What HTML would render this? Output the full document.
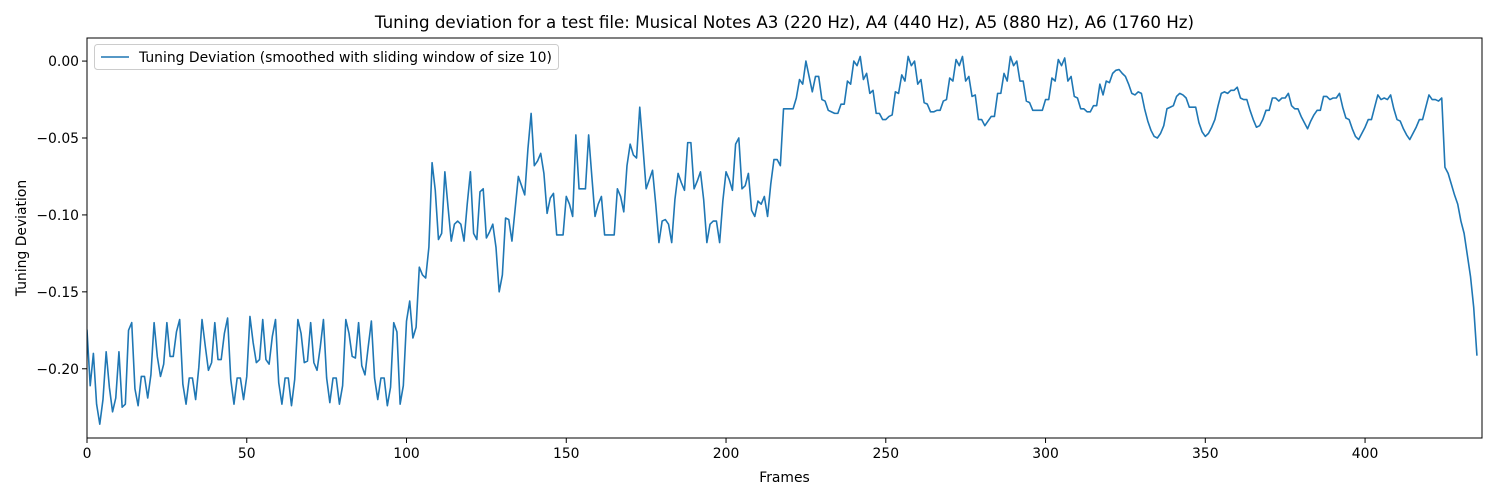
<!DOCTYPE html>
<html><head><meta charset="utf-8">
<style>
html,body{margin:0;padding:0;background:#fff;}
svg{display:block;font-family:"DejaVu Sans","Liberation Sans",sans-serif;}
</style></head>
<body>
<svg id="chart" width="1500" height="500" viewBox="0 0 1500 500" xmlns="http://www.w3.org/2000/svg">
<rect x="0" y="0" width="1500" height="500" fill="#fff"/>
<text x="784.5" y="28" text-anchor="middle" font-size="16.7" fill="#000">Tuning deviation for a test file: Musical Notes A3 (220 Hz), A4 (440 Hz), A5 (880 Hz), A6 (1760 Hz)</text>
<g id="plot"></g>
<text x="784.5" y="482" text-anchor="middle" font-size="13.9" fill="#000">Frames</text>
<text transform="translate(26,238) rotate(-90)" text-anchor="middle" font-size="13.9" fill="#000">Tuning Deviation</text>
<g>
<rect x="94.5" y="44.5" width="464" height="25" rx="3" fill="#fff" fill-opacity="0.8" stroke="#ccc"/>
<line x1="101" y1="57" x2="129" y2="57" stroke="#1f77b4" stroke-width="1.6"/>
<text x="139" y="62" font-size="13.9" fill="#000">Tuning Deviation (smoothed with sliding window of size 10)</text>
</g>
</svg>
<script>
const xTicks = [0,50,100,150,200,250,300,350,400];
const yTicks = [0.00,-0.05,-0.10,-0.15,-0.20];
const yTickLabels = ["0.00","\u22120.05","\u22120.10","\u22120.15","\u22120.20"];
const xDomain = [0, 436.6];
const yDomain = [-0.245, 0.015];
const seg1 = [-0.175,-0.211,-0.190,-0.223,-0.236,-0.220,-0.189,-0.212,-0.228,-0.219,-0.189,-0.225,-0.223,-0.175,-0.170,-0.213,-0.224,-0.205,-0.205,-0.219,-0.204,-0.170,-0.192,-0.205,-0.197,-0.170,-0.192,-0.192,-0.176,-0.168,-0.210,-0.223,-0.206,-0.206,-0.220,-0.199,-0.168,-0.185,-0.201,-0.196,-0.170,-0.194,-0.194,-0.177,-0.167,-0.207,-0.223,-0.206,-0.206,-0.220,-0.205,-0.166,-0.183,-0.196,-0.194,-0.168,-0.194,-0.197,-0.179,-0.168,-0.209,-0.223,-0.206,-0.206,-0.224,-0.207,-0.168,-0.177,-0.196,-0.195,-0.170,-0.196,-0.201,-0.186,-0.168,-0.206,-0.222];
const seg2 = [-0.206,-0.206,-0.223,-0.211,-0.168,-0.177,-0.192,-0.193,-0.170,-0.198,-0.204,-0.186,-0.169,-0.206,-0.220,-0.206,-0.206,-0.224,-0.212,-0.170,-0.176,-0.223,-0.211,-0.169,-0.156,-0.180,-0.173,-0.134,-0.139,-0.141,-0.121,-0.066,-0.084,-0.116,-0.112,-0.072,-0.095,-0.117,-0.106,-0.104,-0.106,-0.117,-0.093,-0.072,-0.112,-0.116,-0.085,-0.083,-0.115,-0.111,-0.106,-0.121,-0.150,-0.139,-0.102,-0.103,-0.117,-0.096,-0.075,-0.081,-0.087,-0.057,-0.034,-0.068,-0.065,-0.060,-0.073,-0.099,-0.089,-0.086,-0.113,-0.113,-0.113,-0.088,-0.093,-0.101];
const seg3 = [-0.048,-0.083,-0.083,-0.083,-0.048,-0.075,-0.101,-0.093,-0.088,-0.113,-0.113,-0.113,-0.113,-0.083,-0.088,-0.098,-0.068,-0.054,-0.061,-0.063,-0.030,-0.056,-0.083,-0.077,-0.071,-0.093,-0.118,-0.104,-0.103,-0.106,-0.118,-0.090,-0.073,-0.079,-0.084,-0.053,-0.053,-0.083,-0.078,-0.072,-0.090,-0.118,-0.106,-0.104,-0.104,-0.118,-0.091,-0.072,-0.077,-0.084,-0.054,-0.050,-0.083,-0.081,-0.073,-0.097,-0.101,-0.091,-0.093,-0.088,-0.101,-0.080,-0.064,-0.064,-0.068,-0.031,-0.031,-0.031,-0.031,-0.024,-0.012,-0.015,0.000,-0.010,-0.020,-0.010];
const seg4 = [-0.010,-0.025,-0.026,-0.032,-0.033,-0.034,-0.034,-0.028,-0.028,-0.013,-0.015,0.000,-0.003,0.003,-0.012,-0.008,-0.021,-0.019,-0.034,-0.034,-0.038,-0.038,-0.036,-0.035,-0.020,-0.021,-0.009,-0.013,0.003,-0.003,0.000,-0.015,-0.012,-0.027,-0.028,-0.033,-0.033,-0.032,-0.032,-0.026,-0.025,-0.011,-0.013,0.001,-0.003,0.003,-0.013,-0.010,-0.023,-0.022,-0.038,-0.038,-0.042,-0.039,-0.036,-0.036,-0.021,-0.021,-0.008,-0.013,0.003,-0.003,0.000,-0.013,-0.013,-0.026,-0.027,-0.032,-0.032,-0.032,-0.032,-0.025,-0.025,-0.011,-0.013,0.001,-0.003,0.002,-0.013];
const seg5 = [-0.010,-0.023,-0.024,-0.031,-0.031,-0.033,-0.033,-0.029,-0.029,-0.015,-0.022,-0.013,-0.014,-0.008,-0.006,-0.0055,-0.008,-0.010,-0.015,-0.021,-0.022,-0.020,-0.021,-0.031,-0.039,-0.045,-0.049,-0.050,-0.047,-0.042,-0.031,-0.030,-0.029,-0.023,-0.021,-0.022,-0.024,-0.030,-0.030,-0.030,-0.040,-0.046,-0.049,-0.047,-0.043,-0.038,-0.029,-0.021,-0.020,-0.021,-0.019,-0.019,-0.017,-0.024,-0.025,-0.025,-0.032,-0.038,-0.043,-0.042,-0.038,-0.032,-0.032,-0.024,-0.024,-0.026,-0.024,-0.024,-0.021,-0.029,-0.031,-0.031,-0.036];
const seg6 = [-0.040,-0.044,-0.039,-0.035,-0.032,-0.032,-0.023,-0.023,-0.025,-0.024,-0.024,-0.021,-0.030,-0.037,-0.038,-0.044,-0.049,-0.051,-0.047,-0.043,-0.038,-0.038,-0.030,-0.022,-0.025,-0.024,-0.025,-0.022,-0.031,-0.038,-0.039,-0.044,-0.048,-0.051,-0.047,-0.043,-0.038,-0.038,-0.030,-0.022,-0.025,-0.025,-0.026,-0.024,-0.069,-0.073,-0.080,-0.087,-0.093,-0.104,-0.112,-0.126,-0.140,-0.160,-0.191];
const values = seg1.concat(seg2, seg3, seg4, seg5, seg6);

const PL = 87, PR = 1482, PT = 38, PB = 438;
function xs(v){ return PL + (v - xDomain[0]) / (xDomain[1] - xDomain[0]) * (PR - PL); }
function ys(v){ return PB - (v - yDomain[0]) / (yDomain[1] - yDomain[0]) * (PB - PT); }
const NS = "http://www.w3.org/2000/svg";
const plot = document.getElementById('plot');
function mk(tag, attrs){ const e = document.createElementNS(NS, tag); for (const k in attrs) e.setAttribute(k, attrs[k]); return e; }

const clip = mk('clipPath', {id:'clipArea'});
clip.appendChild(mk('rect', {x:PL, y:PT, width:PR-PL, height:PB-PT}));
plot.appendChild(clip);

let d = '';
values.forEach((v, i) => { d += (i ? 'L' : 'M') + xs(i).toFixed(2) + ',' + ys(v).toFixed(2); });
const line = mk('path', {d:d, fill:'none', stroke:'#1f77b4', 'stroke-width':'1.6', 'stroke-linejoin':'round', 'stroke-linecap':'square', 'clip-path':'url(#clipArea)'});


plot.appendChild(line);

const frame = mk('rect', {x:PL, y:PT, width:PR-PL, height:PB-PT, fill:'none', stroke:'#000', 'stroke-width':'1'});


plot.appendChild(frame);

xTicks.forEach(t => {
  const x = xs(t);
  const tk = mk('line', {x1:x, y1:PB, x2:x, y2:PB+5, stroke:'#000', 'stroke-width':'1'});
  
  
  plot.appendChild(tk);
  const lb = mk('text', {x:x, y:PB+20, 'text-anchor':'middle', 'font-size':'13.9', fill:'#000'});
  lb.textContent = String(t);
  
  
  plot.appendChild(lb);
});
yTicks.forEach((t, i) => {
  const y = ys(t);
  const tk = mk('line', {x1:PL-5, y1:y, x2:PL, y2:y, stroke:'#000', 'stroke-width':'1'});
  
  
  plot.appendChild(tk);
  const lb = mk('text', {x:PL-8, y:y+5, 'text-anchor':'end', 'font-size':'13.9', fill:'#000'});
  lb.textContent = yTickLabels[i];
  
  
  plot.appendChild(lb);
});
</script>
</body></html>
